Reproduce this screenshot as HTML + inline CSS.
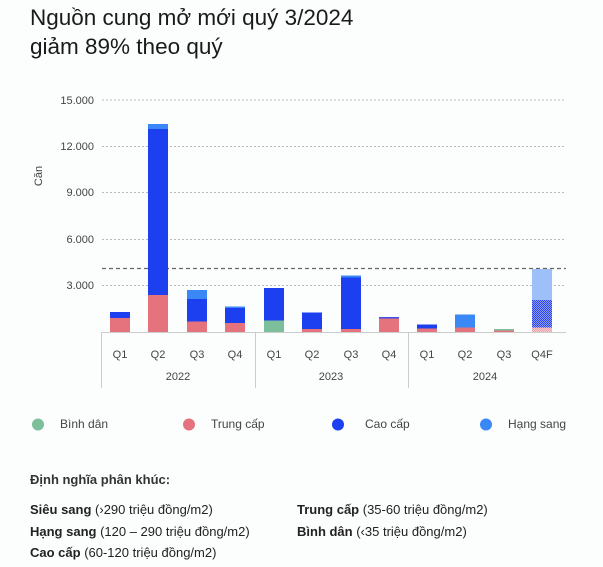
<!DOCTYPE html>
<html><head><meta charset="utf-8"><style>
html,body{margin:0;padding:0;background:#fcfdfd;}
body{width:603px;height:562px;overflow:hidden;font-family:"Liberation Sans",sans-serif;}
</style></head><body>
<svg width="603" height="562" viewBox="0 0 603 562" xmlns="http://www.w3.org/2000/svg" font-family="Liberation Sans, sans-serif">
<defs>
<pattern id="hb" width="2" height="2" patternUnits="userSpaceOnUse"><rect width="2" height="2" fill="#8f9cf5"/><rect width="1" height="1" fill="#2a45f0"/><rect x="1" y="1" width="1" height="1" fill="#2a45f0"/></pattern>
<pattern id="hp" width="2" height="2" patternUnits="userSpaceOnUse"><rect width="2" height="2" fill="#f6d0d3"/><rect width="1" height="1" fill="#eaa0a6"/><rect x="1" y="1" width="1" height="1" fill="#eaa0a6"/></pattern>
</defs>
<text x="30" y="25" font-size="22.5" fill="#1a1a1a">Nguồn cung mở mới quý 3/2024</text>
<text x="30" y="54" font-size="22.5" fill="#1a1a1a">giảm 89% theo quý</text>
<g stroke="#bbb" stroke-width="1" stroke-dasharray="2,2">
<line x1="102" y1="100" x2="566" y2="100"/>
<line x1="102" y1="146.5" x2="566" y2="146.5"/>
<line x1="102" y1="192.5" x2="566" y2="192.5"/>
<line x1="102" y1="239.5" x2="566" y2="239.5"/>
<line x1="102" y1="285.5" x2="566" y2="285.5"/>
</g>
<line x1="102" y1="268.5" x2="566" y2="268.5" stroke="#666" stroke-width="1.2" stroke-dasharray="4,3"/>
<g font-size="11" fill="#444" text-anchor="end">
<text x="94" y="104">15.000</text><text x="94" y="150">12.000</text><text x="94" y="196">9.000</text><text x="94" y="243">6.000</text><text x="94" y="289">3.000</text>
</g>
<text transform="translate(42,176) rotate(-90)" font-size="11" fill="#444" text-anchor="middle">Căn</text>
<g>
<rect x="110" y="318" width="20" height="14" fill="#e5737d"/><rect x="110" y="312" width="20" height="6" fill="#1c3ff0"/>
<rect x="148" y="295" width="20" height="37" fill="#e5737d"/><rect x="148" y="129" width="20" height="166" fill="#1c3ff0"/><rect x="148" y="124" width="20" height="5" fill="#3a88f5"/>
<rect x="187" y="321.5" width="20" height="10.5" fill="#e5737d"/><rect x="187" y="299" width="20" height="22.5" fill="#1c3ff0"/><rect x="187" y="290" width="20" height="9" fill="#3a88f5"/>
<rect x="225" y="323" width="20" height="9" fill="#e5737d"/><rect x="225" y="308" width="20" height="15" fill="#1c3ff0"/><rect x="225" y="306.5" width="20" height="1.5" fill="#3a88f5"/>
<rect x="264" y="320.5" width="20" height="11.5" fill="#7dbf9a"/><rect x="264" y="288" width="20" height="32.5" fill="#1c3ff0"/>
<rect x="302" y="329" width="20" height="3" fill="#e5737d"/><rect x="302" y="312.5" width="20" height="16.5" fill="#1c3ff0"/>
<rect x="341" y="329" width="20" height="3" fill="#e5737d"/><rect x="341" y="277.5" width="20" height="51.5" fill="#1c3ff0"/><rect x="341" y="275.5" width="20" height="2" fill="#3a88f5"/>
<rect x="379" y="318.5" width="20" height="13.5" fill="#e5737d"/><rect x="379" y="317" width="20" height="1.5" fill="#3c50e8"/>
<rect x="417" y="328.5" width="20" height="3.5" fill="#e5737d"/><rect x="417" y="324.5" width="20" height="4" fill="#1c3ff0"/>
<rect x="455" y="327.5" width="20" height="4.5" fill="#e5737d"/><rect x="455" y="314.5" width="20" height="13" fill="#3a88f5"/>
<rect x="494" y="330.5" width="20" height="1.5" fill="#e5737d"/><rect x="494" y="329" width="20" height="1.5" fill="#7dbf9a"/>
<rect x="532" y="327.5" width="20" height="4.5" fill="url(#hp)"/><rect x="532" y="300" width="20" height="27.5" fill="url(#hb)"/><rect x="532" y="269" width="20" height="31" fill="#9cc0f7"/>
</g>
<g stroke="#ccc" stroke-width="1">
<line x1="101" y1="332.5" x2="566" y2="332.5"/>
<line x1="101.5" y1="332" x2="101.5" y2="388"/>
<line x1="255.5" y1="332" x2="255.5" y2="388"/>
<line x1="408.5" y1="332" x2="408.5" y2="388"/>
</g>
<g font-size="11" fill="#444" text-anchor="middle">
<text x="120" y="358">Q1</text><text x="158" y="358">Q2</text><text x="197" y="358">Q3</text><text x="235" y="358">Q4</text>
<text x="274" y="358">Q1</text><text x="312" y="358">Q2</text><text x="351" y="358">Q3</text><text x="389" y="358">Q4</text>
<text x="427" y="358">Q1</text><text x="465" y="358">Q2</text><text x="504" y="358">Q3</text><text x="542" y="358">Q4F</text>
<text x="178" y="380">2022</text><text x="331" y="380">2023</text><text x="485" y="380">2024</text>
</g>
<g font-size="12" fill="#444">
<circle cx="38" cy="424.5" r="6" fill="#7dbf9a"/><text x="60" y="428">Bình dân</text>
<circle cx="189" cy="424.5" r="6" fill="#e5737d"/><text x="211" y="428">Trung cấp</text>
<circle cx="338" cy="424.5" r="6" fill="#1c3ff0"/><text x="365" y="428">Cao cấp</text>
<circle cx="486" cy="424.5" r="6" fill="#3a88f5"/><text x="508" y="428">Hạng sang</text>
</g>
<g font-size="13" fill="#222">
<text x="30" y="484" font-weight="bold" fill="#333">Định nghĩa phân khúc:</text>
<text x="30" y="514"><tspan font-weight="bold">Siêu sang</tspan> (›290 triệu đồng/m2)</text>
<text x="30" y="536"><tspan font-weight="bold">Hạng sang</tspan> (120 – 290 triệu đồng/m2)</text>
<text x="30" y="557"><tspan font-weight="bold">Cao cấp</tspan> (60-120 triệu đồng/m2)</text>
<text x="297" y="514"><tspan font-weight="bold">Trung cấp</tspan> (35-60 triệu đồng/m2)</text>
<text x="297" y="536"><tspan font-weight="bold">Bình dân</tspan> (‹35 triệu đồng/m2)</text>
</g>
</svg>
</body></html>
